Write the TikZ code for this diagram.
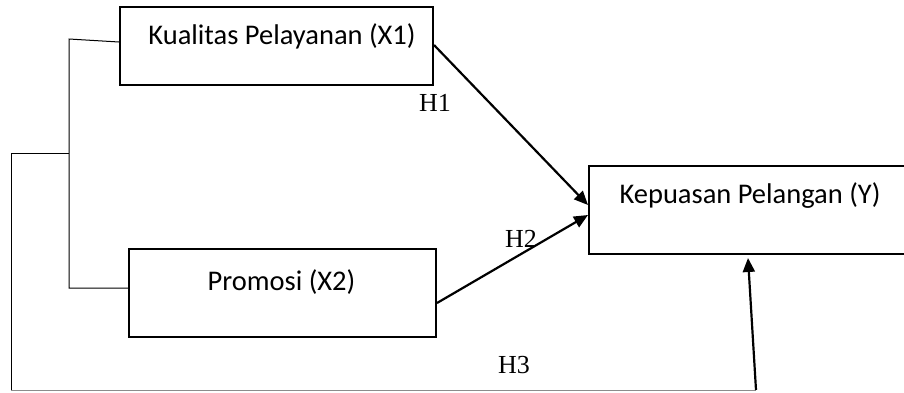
\documentclass[tikz,border=0pt]{standalone}
\usepackage{fontspec}
\setmainfont{Liberation Serif}
\newfontfamily\boxfont{Carlito}
\usetikzlibrary{arrows.meta}

\begin{document}
\begin{tikzpicture}[x=1pt, y=-1pt,
    box/.style={draw=black, line width=2pt, inner sep=0pt},
    boxtext/.style={anchor=base, inner sep=0pt, font=\boxfont\fontsize{28.5}{34}\selectfont},
    hlabel/.style={anchor=base, inner sep=0pt, font=\fontsize{26}{30}\selectfont},
    link/.style={draw=black, line width=1pt},
    arrow/.style={draw=black, line width=2.2pt, -{Triangle[length=14pt,width=12pt]}}]
   \useasboundingbox (0,0) rectangle (904,392);

   % boxes
   \node[box, minimum width=313pt, minimum height=78pt] (x1) at (276.5,46) {};
   \node[box, minimum width=307pt, minimum height=88pt] (x2) at (282.5,293) {};
   \node[box, minimum width=322pt, minimum height=88pt] (y) at (750,210) {};
   \node[boxtext] (x1text) at (282,44) {Kualitas Pelayanan (X1)};
   \node[boxtext] (x2text) at (281.5,290) {Promosi (X2)};
   \node[boxtext] (ytext) at (750,203) {Kepuasan Pelangan (Y)};

   % labels
   \node[hlabel] (h1) at (435,111) {H1};
   \node[hlabel] (h2) at (521,247) {H2};
   \node[hlabel] (h3) at (514,373) {H3};

   % bracket on the left
   \coordinate (top) at (69,39);
   \coordinate (mid) at (69,153);
   \coordinate (low) at (69,288);
   \coordinate (far) at (11,153);
   \coordinate (corner) at (11,390);
   \coordinate (foot) at (756,390);
   \draw[link] ([yshift=4pt]x1.west) -- (top) -- (low) -- ([yshift=5pt]x2.west);
   \draw[link] (mid) -- (far) -- (corner);
   \draw[link, draw=black!45] (corner) -- (foot);

   % arrows
   \draw[arrow] ([yshift=1pt]x1.east) -- ([yshift=5pt]y.west);
   \draw[arrow] ([yshift=-10pt]x2.east) -- ([yshift=-5pt]y.west);
   \draw[arrow] (foot) -- ([xshift=-2pt,yshift=-3pt]y.south);
\end{tikzpicture}
\end{document}
